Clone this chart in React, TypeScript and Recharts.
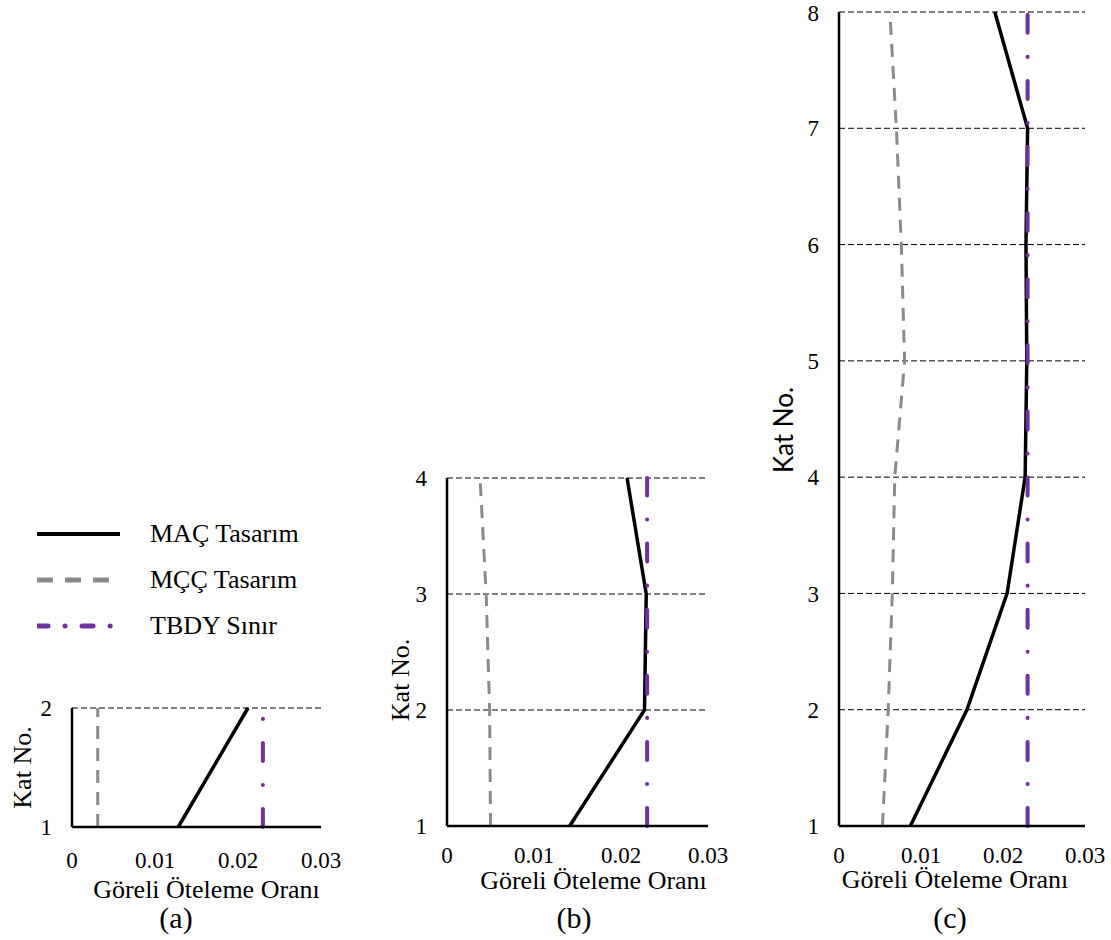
import { LineChart, Line, XAxis, YAxis, CartesianGrid, Legend } from "recharts";

const driftTicks = [0, 0.01, 0.02, 0.03];
const seriesNames = { mac: "MAÇ Tasarım", mcc: "MÇÇ Tasarım", tbdy: "TBDY Sınır" };

// (a) 2 katlı
const floorsA = [1, 2];
const macA = [0.0128, 0.0212];
const mccA = [0.0031, 0.0031];
const tbdyA = [0.023, 0.023];

// (b) 4 katlı
const floorsB = [1, 2, 3, 4];
const macB = [0.0141, 0.0227, 0.0229, 0.0207];
const mccB = [0.005, 0.0049, 0.0045, 0.0038];
const tbdyB = [0.023, 0.023, 0.023, 0.023];

// (c) 8 katlı
const floorsC = [1, 2, 3, 4, 5, 6, 7, 8];
const macC = [0.0087, 0.0156, 0.0205, 0.0227, 0.0229, 0.0228, 0.023, 0.019];
const mccC = [0.0053, 0.006, 0.0065, 0.0068, 0.008, 0.0076, 0.007, 0.0062];
const tbdyC = [0.023, 0.023, 0.023, 0.023, 0.023, 0.023, 0.023, 0.023];

const serif = "'Liberation Serif', serif";
const sans = "Lato, 'Open Sans', sans-serif";

const styles: Record<string, { stroke: string; width: number; dash?: string; legendDash?: string; cap: "round" | "butt" }> = {
  mac: { stroke: "#000", width: 3.5, cap: "butt" },
  mcc: { stroke: "#8a8a8a", width: 3, dash: "13 9", legendDash: "16 12", cap: "butt" },
  tbdy: { stroke: "#7030a0", width: 4, dash: "18 24 0.1 24", legendDash: "11 17 0.1 17", cap: "round" },
};

const order = ["mac", "mcc", "tbdy"];

const toRows = (floors: number[], mac: number[], mcc: number[], tbdy: number[]) =>
  floors.map((floor, i) => ({ floor, mac: mac[i], mcc: mcc[i], tbdy: tbdy[i] }));

function LegendBox({ payload }: any) {
  const items = [...(payload || [])].sort((a: any, b: any) => order.indexOf(a.dataKey) - order.indexOf(b.dataKey));
  return (
    <div style={{ fontFamily: serif, fontSize: 26, color: "#000" }}>
      {items.map((entry: any) => {
        const s = styles[entry.dataKey];
        return (
          <div key={entry.dataKey} style={{ height: 46, display: "flex", alignItems: "center" }}>
            <svg width={113} height={10}>
              <line x1={0} y1={5} x2={83} y2={5} stroke={s.stroke} strokeWidth={entry.dataKey === "mac" ? 4 : 5}
                strokeDasharray={s.legendDash} strokeLinecap={s.cap} />
            </svg>
            <span>{entry.value}</span>
          </div>
        );
      })}
    </div>
  );
}

interface PanelProps {
  floors: number[];
  rows: { floor: number; mac: number; mcc: number; tbdy: number }[];
  left: number;
  top: number;
  width: number;
  height: number;
  plotTop: number;
  right: number;
  xAxisHeight: number;
  xTickMargin: number;
  xTitleOffset: number;
  xTitleDx: number;
  yTitleX: number;
  yTitleDy: number;
  yTitleFont: string;
  yTitleSize: number;
  caption: string;
  captionX: number;
  captionTop: number;
  showLegend?: boolean;
}

function DriftPanel(p: PanelProps) {
  return (
    <div style={{ position: "absolute", left: p.left, top: p.top, width: p.width, height: p.height }}>
      <LineChart width={p.width} height={p.height} data={p.rows} layout="vertical"
        margin={{ top: p.plotTop, right: p.right, bottom: 0, left: 0 }}>
        <CartesianGrid vertical={false} stroke="#000" strokeWidth={1} strokeDasharray="6 3" />
        <XAxis type="number" domain={[0, 0.03]} ticks={driftTicks} height={p.xAxisHeight}
          tickSize={0} tickMargin={p.xTickMargin} tickLine={false}
          axisLine={{ stroke: "#000", strokeWidth: 2.5 }}
          tick={{ fill: "#000", fontSize: 23, fontFamily: serif }}
          tickFormatter={(v: number) => (v === 0 ? "0" : String(v))}
          label={{ value: "Göreli Öteleme Oranı", position: "insideBottom", offset: p.xTitleOffset, dx: p.xTitleDx,
            fill: "#000", fontSize: 26, fontFamily: serif }} />
        <YAxis type="number" dataKey="floor" domain={[1, p.floors.length]} ticks={p.floors} width={72} reversed
          tickSize={0} tickMargin={20} tickLine={false}
          axisLine={{ stroke: "#000", strokeWidth: 2.5 }}
          tick={{ fill: "#000", fontSize: 23, fontFamily: serif }}
          label={{ value: "Kat No.", angle: -90, position: "insideLeft", offset: p.yTitleX, dy: p.yTitleDy,
            fill: "#000", fontSize: p.yTitleSize, fontFamily: p.yTitleFont, style: { textAnchor: "middle" } }} />
        {(["mcc", "mac", "tbdy"] as const).map((key) => (
          <Line key={key} dataKey={key} name={seriesNames[key]} stroke={styles[key].stroke}
            strokeWidth={styles[key].width} strokeDasharray={styles[key].dash} strokeLinecap={styles[key].cap}
            dot={false} activeDot={false} isAnimationActive={false} />
        ))}
        {p.showLegend && (
          <Legend layout="vertical" align="center" verticalAlign="middle"
            wrapperStyle={{ top: 11, left: 37, width: 300 }}
            content={(props: any) => <LegendBox payload={props.payload} />} />
        )}
      </LineChart>
      <div style={{ position: "absolute", left: p.captionX - 50, top: p.captionTop, width: 100, textAlign: "center",
        fontFamily: serif, fontSize: 30, lineHeight: "30px", color: "#000" }}>{p.caption}</div>
    </div>
  );
}

export default function App() {
  return (
    <div style={{ position: "absolute", left: 0, top: 0, width: 1111, height: 940, background: "#fff" }}>
      <DriftPanel floors={floorsA} rows={toRows(floorsA, macA, mccA, tbdyA)}
        left={0} top={500} width={345} height={440} plotTop={208} right={24}
        xAxisHeight={113} xTickMargin={25} xTitleOffset={42} xTitleDx={10}
        yTitleX={22} yTitleDy={0} yTitleFont={serif} yTitleSize={26}
        caption="(a)" captionX={176} captionTop={403} showLegend />
      <DriftPanel floors={floorsB} rows={toRows(floorsB, macB, mccB, tbdyB)}
        left={375} top={440} width={360} height={500} plotTop={38} right={27}
        xAxisHeight={114} xTickMargin={21} xTitleOffset={51} xTitleDx={16}
        yTitleX={25} yTitleDy={28} yTitleFont={serif} yTitleSize={26}
        caption="(b)" captionX={199} captionTop={463} />
      <DriftPanel floors={floorsC} rows={toRows(floorsC, macC, mccC, tbdyC)}
        left={767} top={0} width={344} height={940} plotTop={12} right={26}
        xAxisHeight={114} xTickMargin={21} xTitleOffset={52} xTitleDx={-7}
        yTitleX={17} yTitleDy={11} yTitleFont={sans} yTitleSize={26}
        caption="(c)" captionX={183} captionTop={903} />
    </div>
  );
}
